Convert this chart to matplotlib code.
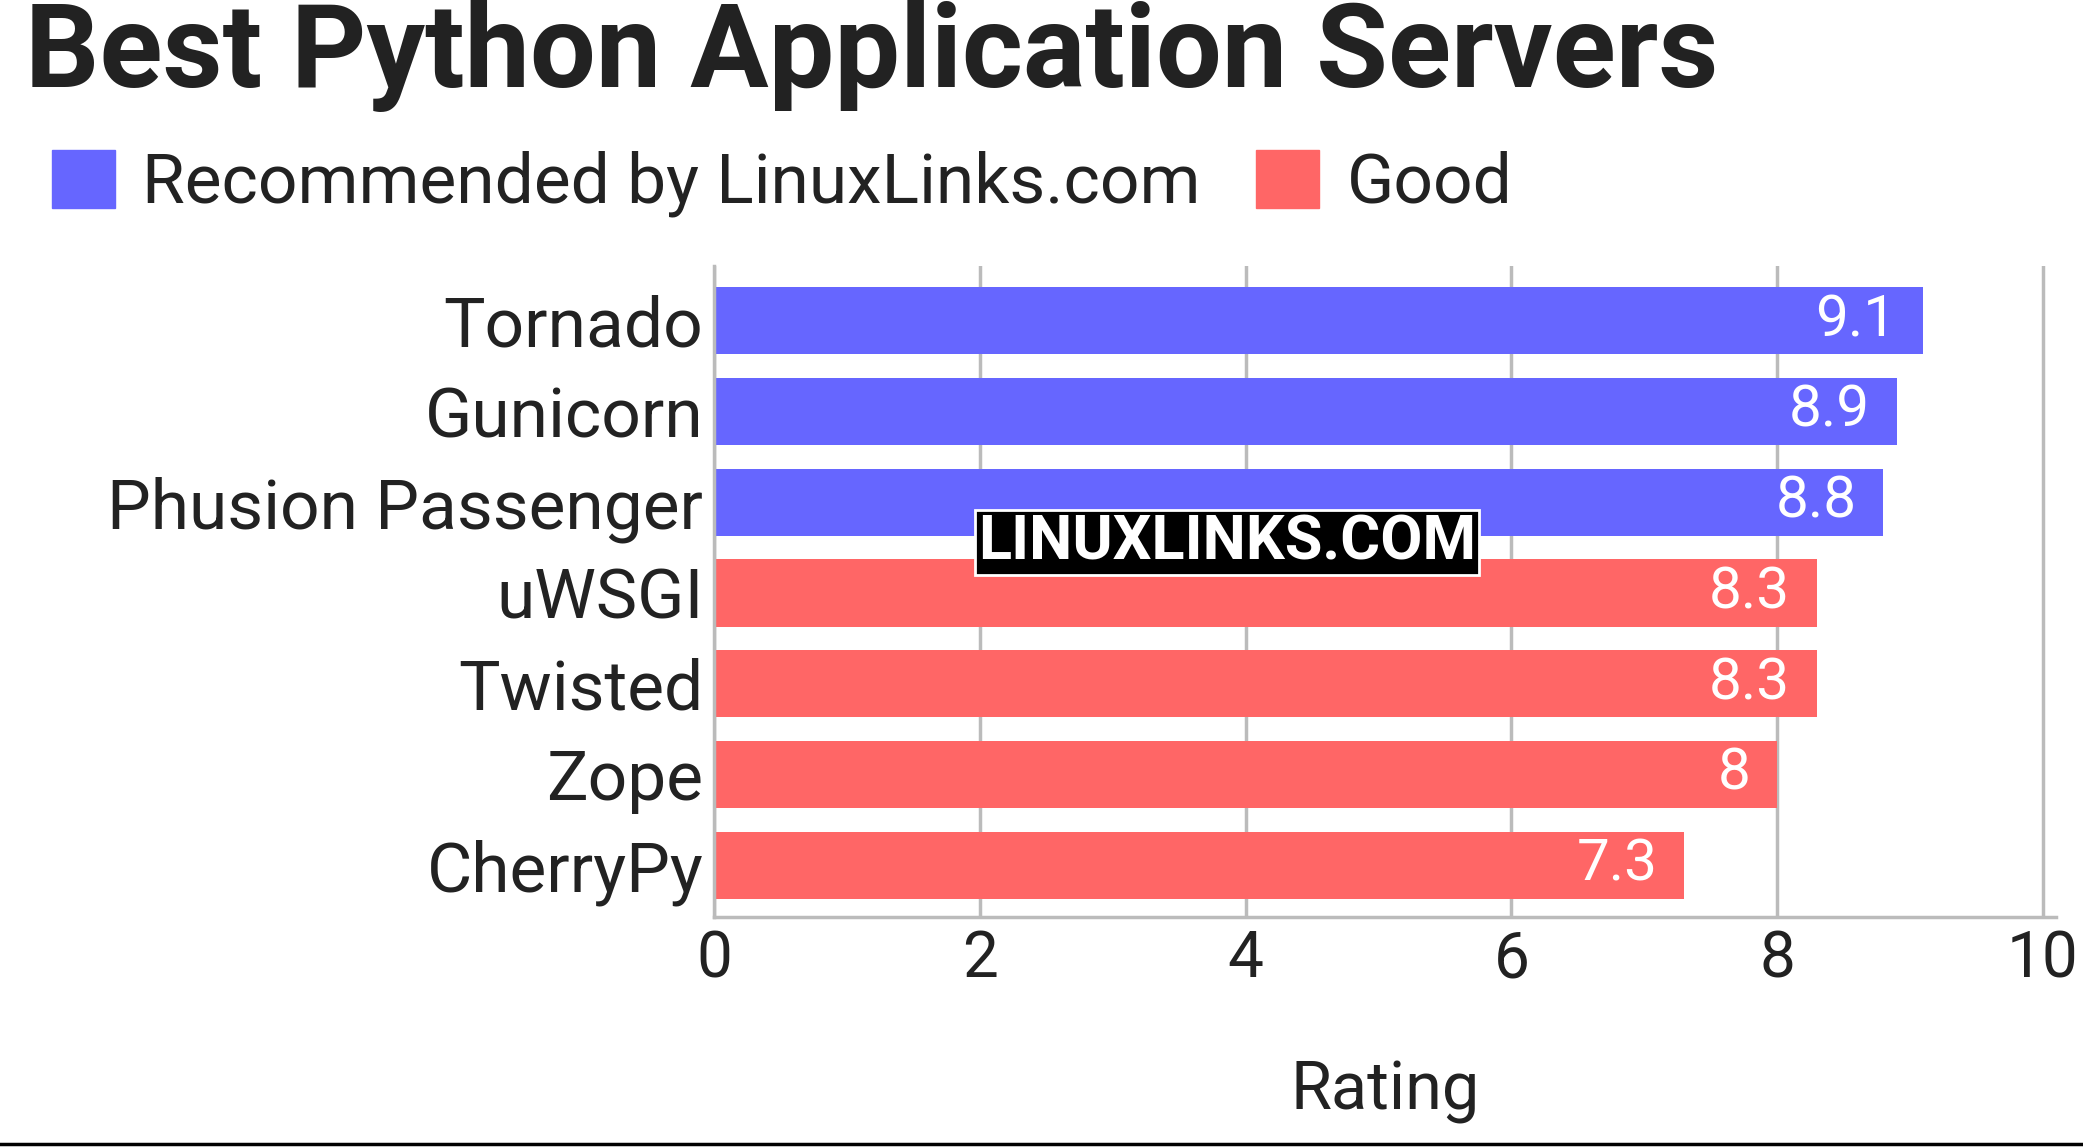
import matplotlib
matplotlib.use("Agg")
import matplotlib.pyplot as plt
from matplotlib.patches import Patch

names = ["Tornado", "Gunicorn", "Phusion Passenger", "uWSGI", "Twisted", "Zope", "CherryPy"]
ratings = [9.1, 8.9, 8.8, 8.3, 8.3, 8.0, 7.3]
groups = ["Recommended by LinuxLinks.com"] * 3 + ["Good"] * 4
labels = ["9.1", "8.9", "8.8", "8.3", "8.3", "8", "7.3"]
xticks = [0, 2, 4, 6, 8, 10]
colors = {"Recommended by LinuxLinks.com": "#6666ff", "Good": "#ff6666"}

plt.rcParams['font.family'] = ['Roboto', 'DejaVu Sans']
fig = plt.figure(figsize=(20.83, 11.47), dpi=100)
ax = fig.add_axes([0.343, 0.2005, 0.644, 0.5675])
ys = list(range(len(names)))
ax.barh(ys, ratings, height=0.74, color=[colors[g] for g in groups], zorder=2)
for y, v, l in zip(ys, ratings, labels):
    ax.text(v - 0.2, y, l, ha='right', va='center', color='white', fontsize=42, zorder=3)
ax.set_xlim(0, 10.1)
ax.set_ylim(6.57, -0.6)
ax.set_yticks(ys)
ax.set_yticklabels(names, fontsize=50, color='#222222')
ax.set_xticks(xticks)
ax.set_xticklabels([str(t) for t in xticks], fontsize=46, color='#222222')
ax.tick_params(length=0, pad=8)
ax.grid(axis='x', color='#bbbbbb', linewidth=2.5, zorder=0)
for s in ['top', 'right']:
    ax.spines[s].set_visible(False)
for s in ['left', 'bottom']:
    ax.spines[s].set_color('#bbbbbb')
    ax.spines[s].set_linewidth(2.5)
ax.set_xlabel("Rating", fontsize=48, color='#222222', labelpad=50)

fig.text(0.012, 0.952, "Best Python Application Servers", fontsize=84, fontweight='bold',
         color='#222222', va='center', ha='left')
handles = [Patch(color=colors[k]) for k in ["Recommended by LinuxLinks.com", "Good"]]
fig.legend(handles, ["Recommended by LinuxLinks.com", "Good"], loc='center left',
           bbox_to_anchor=(-0.005, 0.84), ncol=2, frameon=False, fontsize=50,
           handlelength=0.9, handleheight=0.9, columnspacing=0.8, handletextpad=0.4,
           labelcolor='#222222')
fig.text(0.589, 0.527, "LINUXLINKS.COM", fontsize=44, fontweight='bold', color='white',
         ha='center', va='center',
         bbox=dict(facecolor='black', edgecolor='white', pad=2, linewidth=2), zorder=5)
fig.add_artist(plt.Line2D([0, 1], [0.003, 0.003], color='black', linewidth=2.5))
fig.savefig("out.png", dpi=100)
